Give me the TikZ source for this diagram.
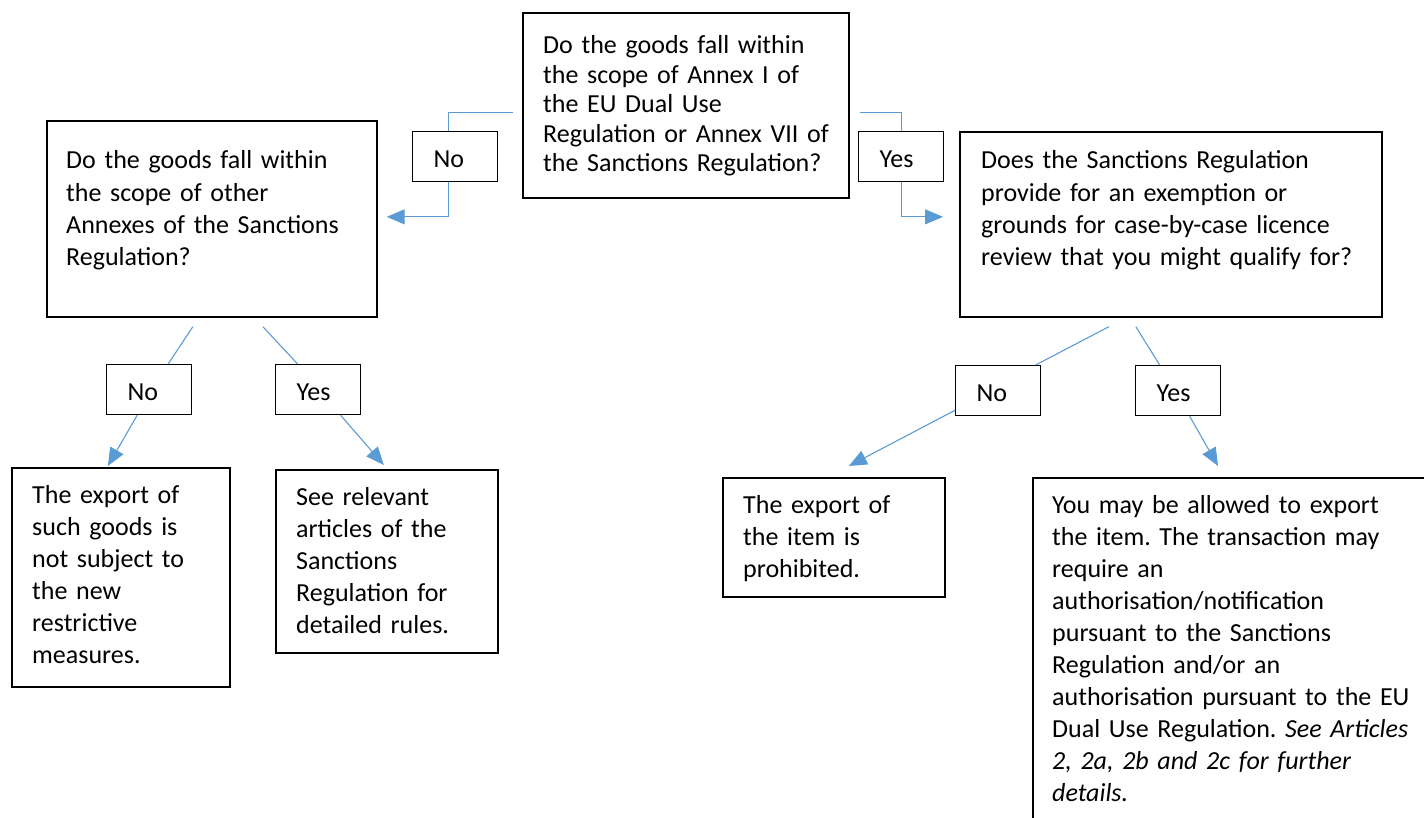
\documentclass[tikz,border=0pt]{standalone}
\usepackage{fontspec}
\setmainfont{Carlito}
\usetikzlibrary{arrows.meta}
\definecolor{connblue}{HTML}{5B9BD5}
\frenchspacing
\begin{document}
\begin{tikzpicture}[x=1pt,y=-1pt,
  box/.style={draw=black, line width=1.7pt, anchor=north west, inner sep=0pt},
  txt/.style={anchor=base west, inner sep=0pt, text width=420pt, align=left, font=\fontsize{26}{32.3}\selectfont},
  lab/.style={draw=black, line width=1.3pt, anchor=north west, inner xsep=21pt, inner ysep=0pt, text width=43pt, text height=36pt, text depth=14pt, align=left, font=\fontsize{26}{32}\selectfont},
  cline/.style={draw=connblue, line width=1.1pt},
  arr/.style={cline, -{Triangle[length=18pt,width=15pt]}},
]
\clip (0,0) rectangle (1424,818);
% boxes
\node[box, minimum width=326pt, minimum height=185pt] (q1) at (522,12) {};
\node[box, minimum width=330pt, minimum height=196pt] (q2) at (46,120) {};
\node[box, minimum width=422pt, minimum height=185pt] (q3) at (959,131) {};
\node[box, minimum width=218pt, minimum height=219pt] (a1) at (11,467) {};
\node[box, minimum width=222pt, minimum height=183pt] (a2) at (275,469) {};
\node[box, minimum width=222pt, minimum height=119pt] (a3) at (722,477) {};
\node[box, minimum width=420pt, minimum height=360pt] (a4) at (1032,477) {};
% texts
\node[txt, font=\fontsize{26}{29.5}\selectfont] (q1t) at (543,54) {Do the goods fall within\\the scope of Annex I of\\the EU Dual Use\\Regulation or Annex VII of\\the Sanctions Regulation?};
\node[txt] (q2t) at (66,169) {Do the goods fall within\\the scope of other\\Annexes of the Sanctions\\Regulation?};
\node[txt] (q3t) at (981,169) {Does the Sanctions Regulation\\provide for an exemption or\\grounds for case-by-case licence\\review that you might qualify for?};
\node[txt, font=\fontsize{26}{32}\selectfont] (a1t) at (32,503) {The export of\\such goods is\\not subject to\\the new\\restrictive\\measures.};
\node[txt, font=\fontsize{26}{32}\selectfont] (a2t) at (296,505) {See relevant\\articles of the\\Sanctions\\Regulation for\\detailed rules.};
\node[txt, font=\fontsize{26}{32}\selectfont] (a3t) at (743,513) {The export of\\the item is\\prohibited.};
\node[txt, font=\fontsize{26}{32}\selectfont] (a4t) at (1052,513) {You may be allowed to export\\the item. The transaction may\\require an\\authorisation/notification\\pursuant to the Sanctions\\Regulation and/or an\\authorisation pursuant to the EU\\Dual Use Regulation. \textit{See Articles}\\\textit{2, 2a, 2b and 2c for further}\\\textit{details.}};
% labels
\node[lab] (no1) at (412,131) {No};
\node[lab] (yes1) at (858,131) {Yes};
\node[lab] (no2) at (106,364) {No};
\node[lab] (yes2) at (275,364) {Yes};
\node[lab] (no3) at (955,365) {No};
\node[lab] (yes3) at (1135,365) {Yes};
% connectors
\draw[cline] ([shift={(-9,7.5)}]q1.west) -| ([shift={(-6.5,0)}]no1.north);
\draw[arr] ([shift={(-6.5,0)}]no1.south) |- ([shift={(9,-2)}]q2.east);
\draw[cline] ([shift={(10,7.5)}]q1.east) -| (yes1.north);
\draw[arr] (yes1.south) |- ([shift={(-16,-7.5)}]q3.west);
\draw[cline] ([shift={(-19,9)}]q2.south) -- ([shift={(19,0)}]no2.north);
\draw[arr] ([shift={(-12,0)}]no2.south) -- ([shift={(-13,-1)}]a1.north);
\draw[cline] ([shift={(51,9)}]q2.south) -- ([shift={(-20.5,0)}]yes2.north);
\draw[arr] ([shift={(22.5,0)}]yes2.south) -- ([shift={(-3,-4)}]a2.north);
\draw[cline] ([shift={(-62,9)}]q3.south) -- ([shift={(37.5,0)}]no3.north);
\draw[arr] ([shift={(0,-6)}]no3.south west) -- ([shift={(15,-11)}]a3.north);
\draw[cline] ([shift={(-35,9)}]q3.south) -- ([shift={(-18.5,0)}]yes3.north);
\draw[arr] ([shift={(11.5,0)}]yes3.south) -- ([shift={(186,-11)}]a4.north west);
\end{tikzpicture}
\end{document}
